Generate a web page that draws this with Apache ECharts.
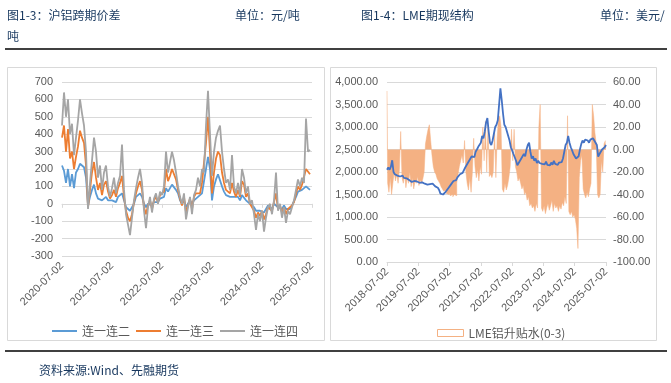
<!DOCTYPE html>
<html><head><meta charset="utf-8">
<script src="https://cdn.jsdelivr.net/npm/echarts@6/dist/echarts.min.js"></script>
<style>html,body{margin:0;padding:0;background:#fff}#c{width:671px;height:383px}</style>
</head><body><div id="c"></div>
<script>
// ---------- Left chart: 沪铝跨期价差 (元/吨) ----------
const leftStart = '2020-07-02', leftEnd = '2025-07-02', leftSteps = 125;
const leftTickDates = ['2020-07-02','2021-07-02','2022-07-02','2023-07-02','2024-07-02','2025-07-02'];
const leftNames = ['连一连二','连一连三','连一连四'];
const spread12 = [220,190,120,200,100,170,90,180,200,230, 240,210,150,-10,40,80,110,60,30,40, 20,30,40,20,10,20,30,10,40,50, 60,20,-20,-30,-40,-30,0,40,50,60, 40,0,-20,0,10,-10,10,20,10,30, 30,40,90,70,90,110,100,80,60,20, 0,20,-20,0,20,0,20,30,40,30, 60,70,200,270,200,20,100,140,170,160, 100,70,50,50,40,50,40,30,40,20, 50,40,20,30,0,10,-20,-40,-30,-40, -30,-50,-30,-10,-20,-30,0,10,-20,-10, -30,-10,-30,-20,-30,-10,0,40,70,60, 80,70,100,90,80];
const spread13 = [380,450,300,430,260,300,200,270,330,420, 380,350,220,-20,80,180,240,150,80,120, 50,110,130,70,30,50,80,40,90,120, 160,40,-40,-80,-100,-60,10,60,100,130, 80,-20,-60,-10,20,-30,20,40,10,50, 40,70,200,130,160,200,170,140,80,30, -10,40,-50,-10,30,-30,40,60,70,60, 120,130,350,500,300,60,180,260,300,280, 180,120,80,90,60,120,70,40,80,40, 130,110,40,60,0,10,-40,-80,-50,-70, -40,-90,-60,-20,-10,-40,10,60,-30,-10, -50,-20,-60,-30,-40,-10,10,60,100,80, 110,100,200,190,170];
const spread14 = [450,640,500,600,400,460,280,380,480,600, 520,450,300,-30,120,250,380,300,150,220, 80,180,220,100,40,90,150,60,120,160, 340,80,-60,-120,-180,-80,20,90,150,200, 120,-40,-140,-20,40,-50,30,60,0,70, 50,100,300,180,240,300,250,180,100,40, 0,60,-90,-20,40,-60,50,80,150,100, 200,180,450,650,400,160,300,380,420,450, 300,200,120,140,80,280,100,60,120,50, 200,150,60,100,0,20,-60,-150,-60,-100, -40,-160,-80,-20,0,-60,20,180,-40,0, -80,-20,-110,-40,-60,-20,20,80,140,100, 150,120,490,300,310];

// ---------- Right chart: LME期现结构 ----------
const rightStart = '2018-07-02', rightEnd = '2025-07-02', rightSteps = 168;
const rightTickDates = ['2018-07-02','2019-07-02','2020-07-02','2021-07-02','2022-07-02','2023-07-02','2024-07-02','2025-07-02'];
const lmePrice = [2050,2100,2050,2120,2260,2000,1950,1980,1920,1950, 1900,1880,1920,1870,1900,1860,1880,1820,1850,1780, 1820,1800,1840,1790,1810,1760,1800,1770,1790,1740, 1760,1720,1750,1730,1760,1740,1720,1680,1700,1650, 1600,1520,1480,1500,1470,1560,1600,1640,1680,1720, 1760,1800,1840,1820,1880,1900,1950,1930,1980,2020, 2100,2150,2200,2250,2300,2350,2380,2330,2450,2500, 2560,2530,2650,2800,2750,2900,3100,3200,2900,2650, 2600,2700,2850,3000,3050,3150,3500,3860,3600,3300, 3050,3000,2900,2800,2700,2550,2480,2400,2380,2250, 2150,2200,2180,2300,2350,2400,2350,2500,2600,2650, 2450,2300,2350,2250,2300,2200,2250,2200,2240,2180, 2220,2170,2230,2160,2200,2150,2210,2160,2250,2180, 2200,2160,2210,2170,2220,2300,2450,2600,2650,2800, 2650,2550,2480,2400,2420,2300,2260,2350,2500,2620, 2700,2650,2720,2680,2700,2650,2720,2680,2750,2700, 2720,2600,2340,2400,2450,2500,2480,2550,2600];
const lmeSpreadName = 'LME铝升贴水(0-3)';
const lmeSpread = [52,-30,-38,-25,-40,-30,-20,-28,-22,-30, -18,16,-25,-30,-22,-34,-25,-30,-20,-33, -25,-35,-28,-30,-24,-32,-27,-30,-26,-20, 5,12,18,22,8,-5,-15,-20,-22,-26, -28,-30,-33,-35,-37,-36,-39,-40,-38,-41, -40,-42,-40,-41,-30,-22,-15,-10,-5,-12, 8,-20,-30,-36,-25,-38,-20,10,-15,-25, -18,-28,-15,-22,20,-10,25,-20,22,-24, -22,-25,-20,18,-25,10,28,30,20,-35, -38,-30,-36,-32,-25,-15,18,-10,18,-15, -20,-28,-25,-30,-35,-32,-40,-38,-45,-42, -50,-48,-52,-50,-55,-48,-52,20,40,-52, -55,-50,-57,-52,-48,-54,-50,-45,-55,-48, -52,-50,-55,-50,-53,-47,-50,-42,-48,30, -55,-58,-55,-60,-58,-62,-70,-88,-25,-10, -5,-35,-40,-43,-38,-42,-35,-30,40,30, 15,5,-40,-43,-40,-10,-20,5,8];

function ts(s){const p=s.split('-').map(Number);return new Date(p[0],p[1]-1,p[2]).getTime();}
function fmt(v){const d=new Date(v);return d.getFullYear()+'-'+String(d.getMonth()+1).padStart(2,'0')+'-'+String(d.getDate()).padStart(2,'0');}
function pair(vals,start,end,steps){const a=ts(start),b=ts(end),st=(b-a)/steps;return vals.map((v,i)=>[a+i*st,v]);}

const GRID_C='#D9D9D9', LAB_C='#595959', HEAD_C='#17375E';
const cjk='"Noto Sans CJK SC","Microsoft YaHei",sans-serif';
const lab={color:LAB_C,fontSize:11,fontFamily:'"Liberation Sans",Arial,sans-serif'};

const chart=echarts.init(document.getElementById('c'),null,{renderer:'canvas'});
const lTicks=leftTickDates.map(ts), rTicks=rightTickDates.map(ts);
const c2 = v => Number(v).toLocaleString('en-US',{minimumFractionDigits:2,maximumFractionDigits:2});
const dateLab = ticks => Object.assign({customValues:ticks,rotate:45,margin:8,padding:[24,0,0,0],formatter:fmt,hideOverlap:false},lab);

chart.setOption({
  animation:false,
  backgroundColor:'#fff',
  graphic:[
    {type:'rect',shape:{x:7.5,y:67.5,width:317,height:273},style:{fill:'none',stroke:GRID_C,lineWidth:1},z:-10},
    {type:'rect',shape:{x:330.5,y:67.5,width:326,height:273},style:{fill:'none',stroke:GRID_C,lineWidth:1},z:-10},
    {type:'line',shape:{x1:5,y1:49,x2:667,y2:49},style:{stroke:'#000',lineWidth:1.5}},
    {type:'line',shape:{x1:5,y1:351,x2:667,y2:351},style:{stroke:'#000',lineWidth:1.5}},
    {type:'text',x:7,y:15,style:{text:'图1-3：沪铝跨期价差',fill:HEAD_C,font:'12px '+cjk,verticalAlign:'middle'}},
    {type:'text',x:235,y:15,style:{text:'单位：元/吨',fill:HEAD_C,font:'12px '+cjk,verticalAlign:'middle'}},
    {type:'text',x:361,y:15,style:{text:'图1-4：LME期现结构',fill:HEAD_C,font:'12px '+cjk,verticalAlign:'middle'}},
    {type:'text',x:600,y:15,style:{text:'单位：美元/',fill:HEAD_C,font:'12px '+cjk,verticalAlign:'middle'}},
    {type:'text',x:7,y:36,style:{text:'吨',fill:HEAD_C,font:'12px '+cjk,verticalAlign:'middle'}},
    {type:'text',x:39,y:370,style:{text:'资料来源:Wind、先融期货',fill:HEAD_C,font:'12px '+cjk,verticalAlign:'middle'}}
  ],
  legend:[
    {data:leftNames,left:47,top:320,icon:'rect',itemWidth:25,itemHeight:2,itemGap:6,
     textStyle:{color:LAB_C,fontSize:12,fontFamily:cjk}},
    {data:[{name:lmeSpreadName,itemStyle:{color:'#fff',borderColor:'#F4B183',borderWidth:1}}],left:432,top:322,icon:'rect',itemWidth:26,itemHeight:7,
     textStyle:{color:LAB_C,fontSize:12,fontFamily:cjk}}
  ],
  grid:[
    {left:62,top:82,width:250,height:174,containLabel:false},
    {left:387,top:82,width:219,height:180,containLabel:false}
  ],
  xAxis:[
    {type:'value',gridIndex:0,position:'bottom',min:ts(leftStart),max:ts(leftEnd),
     axisLine:{show:false,onZero:false},axisTick:{show:false},splitLine:{show:false},
     axisLabel:dateLab(lTicks)},
    {type:'value',gridIndex:0,position:'bottom',min:ts(leftStart),max:ts(leftEnd),
     axisLine:{show:true,onZero:true,lineStyle:{color:GRID_C}},
     axisTick:{show:true,customValues:lTicks,length:4,lineStyle:{color:GRID_C}},
     axisLabel:{show:false},splitLine:{show:false}},
    {type:'value',gridIndex:1,position:'bottom',min:ts(rightStart),max:ts(rightEnd),
     axisLine:{show:true,lineStyle:{color:GRID_C}},
     axisTick:{show:true,customValues:rTicks,length:4,lineStyle:{color:GRID_C}},splitLine:{show:false},
     axisLabel:dateLab(rTicks)}
  ],
  yAxis:[
    {type:'value',gridIndex:0,min:-300,max:700,interval:100,
     axisLine:{show:false},axisTick:{show:false},
     splitLine:{lineStyle:{color:GRID_C}},axisLabel:Object.assign({margin:9},lab)},
    {type:'value',gridIndex:1,min:0,max:4000,interval:500,
     axisLine:{show:false},axisTick:{show:false},
     splitLine:{lineStyle:{color:GRID_C}},axisLabel:Object.assign({margin:9,formatter:c2},lab)},
    {type:'value',gridIndex:1,position:'right',min:-100,max:60,interval:20,
     axisLine:{show:false},axisTick:{show:false},splitLine:{show:false},
     axisLabel:Object.assign({margin:7,formatter:c2},lab)}
  ],
  series:[
    {name:leftNames[0],type:'line',xAxisIndex:0,yAxisIndex:0,data:pair(spread12,leftStart,leftEnd,leftSteps),
     symbol:'none',lineStyle:{color:'#5B9BD5',width:1.8},itemStyle:{color:'#5B9BD5'}},
    {name:leftNames[1],type:'line',xAxisIndex:0,yAxisIndex:0,data:pair(spread13,leftStart,leftEnd,leftSteps),
     symbol:'none',lineStyle:{color:'#ED7D31',width:1.8},itemStyle:{color:'#ED7D31'}},
    {name:leftNames[2],type:'line',xAxisIndex:0,yAxisIndex:0,data:pair(spread14,leftStart,leftEnd,leftSteps),
     symbol:'none',lineStyle:{color:'#A5A5A5',width:1.8},itemStyle:{color:'#A5A5A5'}},
    {name:lmeSpreadName,type:'line',step:'middle',xAxisIndex:2,yAxisIndex:2,data:pair(lmeSpread,rightStart,rightEnd,rightSteps),
     symbol:'none',lineStyle:{color:'#F4B183',width:0.5},itemStyle:{color:'#F4B183'},
     areaStyle:{color:'#F4B183',opacity:1,origin:'auto'}},
    {name:'LME铝价',type:'line',xAxisIndex:2,yAxisIndex:1,data:pair(lmePrice,rightStart,rightEnd,rightSteps),
     symbol:'none',lineStyle:{color:'#4472C4',width:1.8},itemStyle:{color:'#4472C4'},z:3}
  ]
});
</script></body></html>
